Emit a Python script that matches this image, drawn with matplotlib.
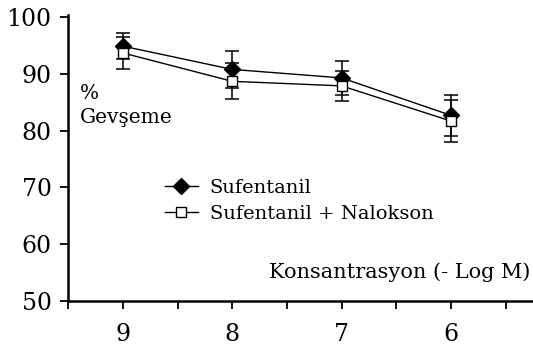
import numpy as np
import matplotlib.pyplot as plt
from matplotlib.ticker import MultipleLocator
from matplotlib.lines import Line2D

# veri
konsantrasyon = [9, 8, 7, 6]
sufentanil = [94.9, 90.8, 89.3, 82.7]
sufentanil_hata = [2.3, 3.2, 3.0, 3.6]
nalokson = [93.7, 88.7, 87.9, 81.7]
nalokson_hata = [2.8, 3.2, 2.6, 3.7]

plt.rcParams['font.family'] = ['DejaVu Serif']

fig = plt.figure(figsize=(5.33, 3.51), dpi=100)
ax = fig.add_axes([0.128, 0.1425, 0.872, 0.815])

ax.errorbar(konsantrasyon, sufentanil, yerr=sufentanil_hata, color='black',
            marker='D', markersize=8.5, markerfacecolor='black', lw=1.0,
            capsize=5, elinewidth=1.1, capthick=1.1, zorder=3)
ax.errorbar(konsantrasyon, nalokson, yerr=nalokson_hata, color='black',
            marker='s', markersize=7, markerfacecolor='white', lw=1.0,
            capsize=5, elinewidth=1.1, capthick=1.1, zorder=4)

ax.set_xlim(9.5, 5.25)
ax.set_ylim(50, 100.4)
ax.set_yticks([50, 60, 70, 80, 90, 100])
ax.set_xticks(konsantrasyon)
ax.xaxis.set_minor_locator(MultipleLocator(0.5))

for s in ['top', 'right']:
    ax.spines[s].set_visible(False)
for s in ['left', 'bottom']:
    ax.spines[s].set_linewidth(1.8)

ax.tick_params(axis='both', which='major', length=6, width=1.3, labelsize=17)
ax.tick_params(axis='x', which='major', pad=10)
ax.tick_params(axis='x', which='minor', length=6, width=1.3)
ax.tick_params(axis='y', pad=6)

handles = [
    Line2D([], [], color='black', lw=1.0, marker='D', markersize=8,
           markerfacecolor='black'),
    Line2D([], [], color='black', lw=1.0, marker='s', markersize=7,
           markerfacecolor='white'),
]
ax.legend(handles, ['Sufentanil', 'Sufentanil + Nalokson'], loc='upper left',
          bbox_to_anchor=(0.187, 0.46), frameon=False, borderpad=0,
          fontsize=14, handlelength=1.7, handletextpad=0.6, labelspacing=0.4)

ax.text(0.025, 0.757, '%\nGevşeme', transform=ax.transAxes, fontsize=14.5,
        va='top', ha='left', linespacing=1.3)
ax.text(0.995, 0.10, 'Konsantrasyon (- Log M)', transform=ax.transAxes,
        fontsize=15, ha='right', va='center')

fig.savefig('out.png', dpi=100)
